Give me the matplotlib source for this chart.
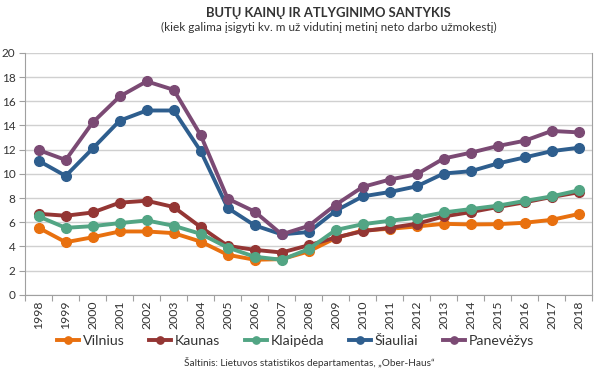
import matplotlib
matplotlib.use("Agg")
import matplotlib.pyplot as plt

plt.rcParams['font.family'] = ['Lato', 'DejaVu Sans']

years = list(range(1998, 2019))
vilnius = [5.54, 4.35, 4.76, 5.24, 5.24, 5.1, 4.4, 3.31, 2.9, 2.95, 3.59, 4.7, 5.32, 5.46, 5.65, 5.87, 5.82, 5.84, 5.96, 6.2, 6.68]
kaunas = [6.7, 6.54, 6.81, 7.62, 7.78, 7.26, 5.6, 4.05, 3.72, 3.5, 4.1, 4.74, 5.26, 5.54, 5.87, 6.48, 6.84, 7.26, 7.65, 8.09, 8.48]
klaipeda = [6.48, 5.54, 5.68, 5.93, 6.15, 5.71, 5.04, 3.91, 3.15, 2.9, 3.78, 5.36, 5.84, 6.12, 6.37, 6.81, 7.09, 7.37, 7.76, 8.14, 8.64]
siauliai = [11.08, 9.83, 12.1, 14.4, 15.24, 15.24, 11.88, 7.18, 5.74, 5.0, 5.19, 6.95, 8.14, 8.5, 8.97, 10.03, 10.22, 10.86, 11.36, 11.88, 12.16]
panevezys = [11.97, 11.15, 14.25, 16.4, 17.65, 16.95, 13.2, 7.95, 6.88, 5.0, 5.7, 7.45, 8.92, 9.53, 9.97, 11.27, 11.75, 12.3, 12.74, 13.55, 13.43]

names = ['Vilnius', 'Kaunas', 'Klaipėda', 'Šiauliai', 'Panevėžys']
series = [vilnius, kaunas, klaipeda, siauliai, panevezys]
colors = ['#E8700F', '#943634', '#52A584', '#2E5E8E', '#7B4A74']

fig = plt.figure(figsize=(6, 3.78), dpi=100)
ax = fig.add_axes([0.042, 0.22, 0.945, 0.64])

for name, vals, c in zip(names, series, colors):
    ax.plot(years, vals, color=c, lw=2.8, marker='o', ms=7, label=name, zorder=3)

ax.set_xlim(1997.5, 2018.5)
ax.set_ylim(0, 20)
ax.set_yticks(range(0, 21, 2))
ax.yaxis.grid(True, color='#D0D0D0', lw=1)
ax.set_axisbelow(True)
ax.set_xticks([y - 0.5 for y in years] + [2018.5])
ax.set_xticklabels([])
ax.set_xticks(years, minor=True)
ax.set_xticklabels([str(y) for y in years], minor=True, rotation=90, fontsize=8.8, color='#333333')
ax.tick_params(axis='x', which='minor', length=0, pad=4)
ax.tick_params(axis='x', which='major', length=4, color='#A0A0A0')
ax.tick_params(axis='y', length=4, color='#A0A0A0', labelsize=8.5, labelcolor='#333333', pad=3)
for s in ['left', 'bottom', 'right']:
    ax.spines[s].set_color('#A0A0A0')
ax.spines['top'].set_visible(False)

fig.text(0.547, 0.966, 'BUTŲ KAINŲ IR ATLYGINIMO SANTYKIS', ha='center', va='center',
         fontsize=9.4, fontweight='bold', color='#333333')
fig.text(0.548, 0.927, '(kiek galima įsigyti kv. m už vidutinį metinį neto darbo užmokestį)',
         ha='center', va='center', fontsize=8.5, color='#333333')

handles, labels = ax.get_legend_handles_labels()
fig.legend(handles, labels, loc='center', bbox_to_anchor=(0.4925, 0.098), ncol=5, frameon=False,
           fontsize=10.2, handlelength=1.55, columnspacing=1.75, handletextpad=0.25,
           markerscale=0.75, labelcolor='#333333')

fig.text(0.515, 0.04, 'Šaltinis: Lietuvos statistikos departamentas, „Ober-Haus“', ha='center',
         va='center', fontsize=7.2, color='#333333')

fig.savefig('out.png', dpi=100)
